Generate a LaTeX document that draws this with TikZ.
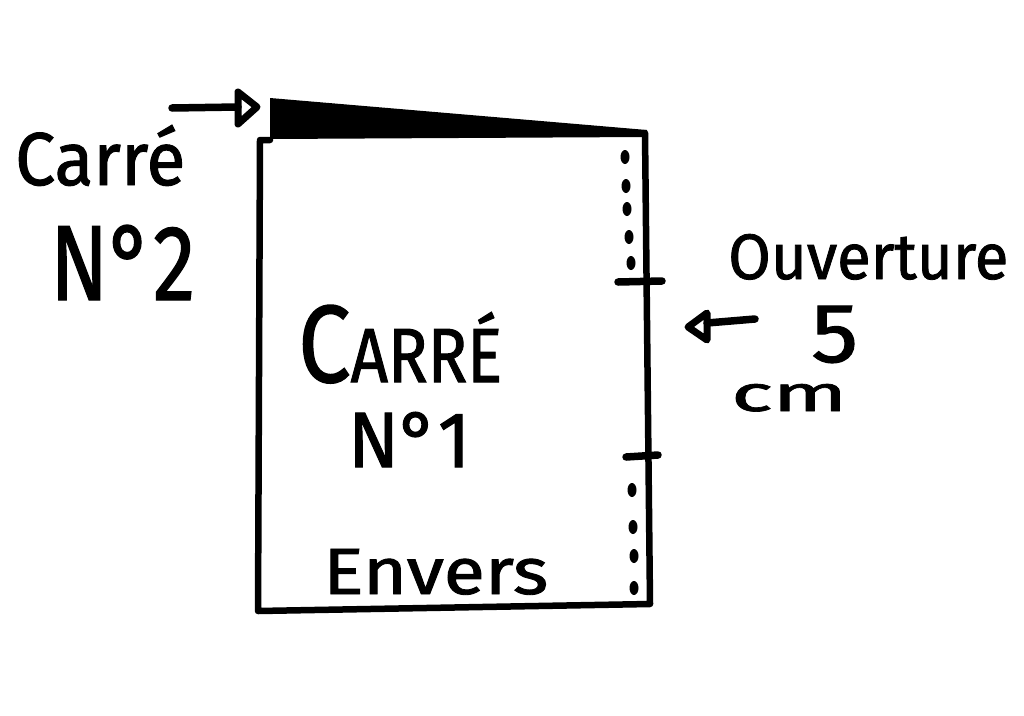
\documentclass[tikz,border=0pt]{standalone}
\usepackage{fontspec}
\setmainfont{Fira Sans}[FakeBold=1.3]
\usepackage{graphicx}
\tikzset{
  stroke/.style={line width=7.5pt, line cap=round, line join=round},
  edge/.style={line width=6.5pt, line cap=round, line join=round},
  hand/.style={inner sep=0pt, anchor=base west},
  headtri/.style={line width=7pt, line join=round, line cap=round}
}
\newcommand{\fitbox}[3]{\resizebox{#1pt}{#2pt}{#3}}
\begin{document}
\begin{tikzpicture}[x=1pt,y=-1pt]
\useasboundingbox (0,0) rectangle (1024,715);
\fill[white] (0,0) rectangle (1024,715);
% flap (carré n°2)
\fill[black, line join=round] (270,98) -- (647,130) -- (646,137) -- (270,139) -- cycle;
% main square (carré n°1)
\coordinate (tl) at (260,140);
\coordinate (tr) at (645,133);
\coordinate (br) at (650,604);
\coordinate (bl) at (258,611);
\draw[edge] (270,140) -- (tl) -- (bl) -- (br) -- (tr);
% dots along the opening
\foreach \x/\y in {625/157,626/186,627/209,629/237,631/263,632/490,633/527,634/556,634/588}
  \fill (\x,\y) ellipse (4.5pt and 7pt);
% ticks marking the opening
\coordinate (t1a) at (618,282); \coordinate (t1b) at (662,281);
\coordinate (t2a) at (626,457); \coordinate (t2b) at (658,455);
\draw[stroke] (t1a) -- (t1b);
\draw[stroke] (t2a) -- (t2b);
% texts
\node[hand] (c2a) at (15,185) {\fitbox{170}{60}{Carré}};
\node[hand] (c2b) at (50,300) {\fitbox{145}{75}{N°2}};
\node[hand] (c1a) at (298,382) {\fitbox{204}{77}{C{\fontsize{7}{7}\selectfont ARRÉ}}};
\node[hand] (c1b) at (348,467) {\fitbox{122}{55}{N°1}};
\node[hand] (env) at (323,594) {\fitbox{225}{45}{Envers}};
\node[hand] (ouv) at (728,279) {\fitbox{280}{45}{Ouverture}};
\node[hand] (five) at (811,362) {\fitbox{47}{56}{5}};
\node[hand] (cm) at (731,411) {\fitbox{116}{27}{cm}};
% arrow to carré n°2
\coordinate (a1s) at (172,108);
\coordinate (a1b) at (238,107);
\coordinate (a1e) at (257,107);
\draw[stroke] (a1s) -- (a1b);
\draw[headtri] (238,92) -- (a1e) -- (238,124) -- cycle;
% arrow to the opening
\coordinate (a2s) at (755,319);
\coordinate (a2b) at (707,323);
\coordinate (a2e) at (688,327);
\draw[stroke] (a2s) -- (a2b);
\draw[headtri] (707,313) -- (a2e) -- (707,340) -- cycle;
\end{tikzpicture}
\end{document}
